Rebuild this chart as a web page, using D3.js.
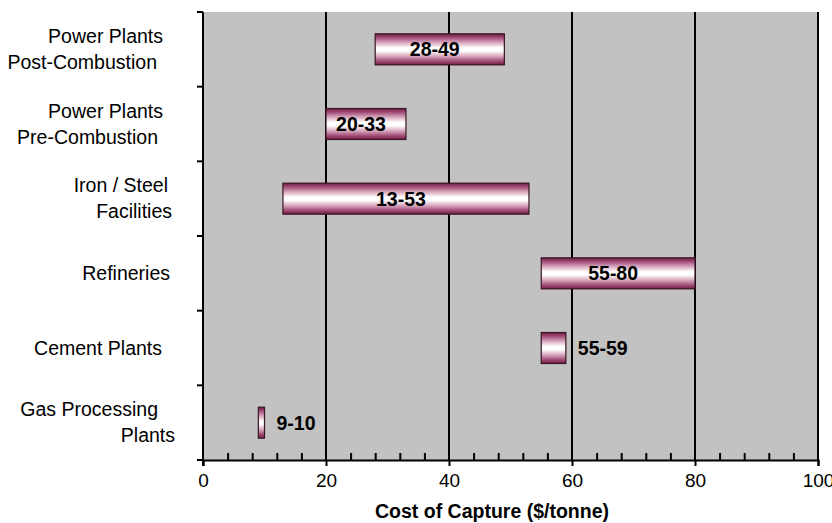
<!DOCTYPE html>
<html>
<head>
<meta charset="utf-8">
<script src="https://cdn.jsdelivr.net/npm/d3@7"></script>
<style>
  html, body { margin: 0; padding: 0; background: #ffffff; overflow: hidden; }
  svg { display: block; font-family: Arial, "Liberation Sans", sans-serif; }
</style>
</head>
<body>
<svg id="chart" width="832" height="523"></svg>
<script>
// ---- data ----
const categories = [
  "Power Plants Post-Combustion",
  "Power Plants Pre-Combustion",
  "Iron / Steel Facilities",
  "Refineries",
  "Cement Plants",
  "Gas Processing Plants"
];
const categoryLines = [
  ["Power Plants", "Post-Combustion"],
  ["Power Plants", "Pre-Combustion"],
  ["Iron / Steel", "Facilities"],
  ["Refineries"],
  ["Cement Plants"],
  ["Gas Processing", "Plants"]
];
const lowValues  = [28, 20, 13, 55, 55, 9];
const highValues = [49, 33, 53, 80, 59, 10];
const xTicks = [0, 20, 40, 60, 80, 100];
const xTitle = "Cost of Capture ($/tonne)";

// ---- layout ----
const W = 832, H = 523;
const m = { left: 203, right: 14, top: 12, bottom: 63 };
// right end of each category label line (text layout, not data)
const labelEnds = [[163, 157], [163, 158], [168, 172], [170], [162], [158, 175]];
const svg = d3.select("#chart");

const x = d3.scaleLinear().domain([0, 100]).range([m.left, W - m.right]);
const y = d3.scaleBand().domain(categories).range([m.top, H - m.bottom]).paddingInner(0).paddingOuter(0);

// gradient
const defs = svg.append("defs");
const grad = defs.append("linearGradient").attr("id", "barGrad")
  .attr("x1", 0).attr("y1", 0).attr("x2", 0).attr("y2", 1);
[
  [0, "#6e1d45"], [0.12, "#a24c78"], [0.28, "#d7a7bd"], [0.45, "#ffffff"],
  [0.55, "#ffffff"], [0.72, "#d7a7bd"], [0.88, "#a24c78"], [1, "#6e1d45"]
].forEach(([o, c]) => grad.append("stop").attr("offset", o).attr("stop-color", c));

// plot background
svg.append("rect")
  .attr("x", x(0)).attr("y", m.top)
  .attr("width", x(100) - x(0)).attr("height", (H - m.bottom) - m.top)
  .attr("fill", "#c2c2c2");

// gridlines
svg.append("g").selectAll("line").data(xTicks.filter(d => d > 0)).join("line")
  .attr("x1", d => x(d)).attr("x2", d => x(d))
  .attr("y1", m.top).attr("y2", H - m.bottom)
  .attr("stroke", "#000").attr("stroke-width", 2);

// x axis major
const xAxis = svg.append("g").attr("transform", `translate(0,${H - m.bottom})`)
  .call(d3.axisBottom(x).tickValues(xTicks).tickSize(6).tickFormat(d3.format("d")));
xAxis.select(".domain").attr("stroke", "#000").attr("stroke-width", 2);
xAxis.selectAll(".tick line").attr("stroke", "#000").attr("stroke-width", 2);
xAxis.selectAll(".tick text").attr("font-size", 19).attr("fill", "#000")
  .attr("font-family", "Arial, 'Liberation Sans', sans-serif").attr("dy", "0.95em");

// x axis minor (inside)
const minor = d3.range(0, 101, 4).filter(d => d % 20 !== 0);
const xMinor = svg.append("g").attr("transform", `translate(0,${H - m.bottom})`)
  .call(d3.axisBottom(x).tickValues(minor).tickSizeInner(-7).tickSizeOuter(0).tickFormat(""));
xMinor.select(".domain").remove();
xMinor.selectAll(".tick line").attr("stroke", "#000").attr("stroke-width", 2);

// y axis line + category boundary ticks
const bounds = categories.map(c => y(c)).concat([y(categories[categories.length - 1]) + y.bandwidth()]);
svg.append("line")
  .attr("x1", x(0)).attr("x2", x(0)).attr("y1", m.top).attr("y2", H - m.bottom + 6)
  .attr("stroke", "#000").attr("stroke-width", 2);
svg.append("g").selectAll("line").data(bounds).join("line")
  .attr("x1", x(0) - 6).attr("x2", x(0))
  .attr("y1", d => d).attr("y2", d => d)
  .attr("stroke", "#000").attr("stroke-width", 2);

// category labels
const lineGap = 26;
const catG = svg.append("g");
categories.forEach((c, i) => {
  const lines = categoryLines[i];
  const cy = y(c) + y.bandwidth() / 2;
  lines.forEach((t, j) => {
    catG.append("text")
      .attr("x", labelEnds[i][j])
      .attr("y", cy + (j - (lines.length - 1) / 2) * lineGap)
      .attr("dy", "0.35em")
      .attr("text-anchor", "end")
      .attr("font-size", 19.5)
      .attr("fill", "#000")
      .text(t);
  });
});

// bars
const barH = 31;
const data = categories.map((c, i) => ({ c, lo: lowValues[i], hi: highValues[i] }));
svg.append("g").selectAll("rect").data(data).join("rect")
  .attr("x", d => x(d.lo))
  .attr("y", d => y(d.c) + y.bandwidth() / 2 - barH / 2)
  .attr("width", d => x(d.hi) - x(d.lo))
  .attr("height", barH)
  .attr("fill", "url(#barGrad)")
  .attr("stroke", "#3a1426").attr("stroke-width", 1.2);

// bar labels
const inside = d => (x(d.hi) - x(d.lo)) > 70;
svg.append("g").selectAll("text").data(data).join("text")
  .attr("x", d => inside(d) ? (x(d.lo) + x(d.hi)) / 2 - 5 : x(d.hi) + 12)
  .attr("y", d => y(d.c) + y.bandwidth() / 2)
  .attr("dy", "0.36em")
  .attr("text-anchor", d => inside(d) ? "middle" : "start")
  .attr("font-size", 19.5).attr("font-weight", "bold").attr("fill", "#000")
  .text(d => `${d.lo}-${d.hi}`);

// x title
svg.append("text")
  .attr("x", 492).attr("y", 511)
  .attr("dy", "0.35em")
  .attr("text-anchor", "middle")
  .attr("font-size", 19.5).attr("font-weight", "bold").attr("fill", "#000")
  .text(xTitle);
</script>
</body>
</html>
